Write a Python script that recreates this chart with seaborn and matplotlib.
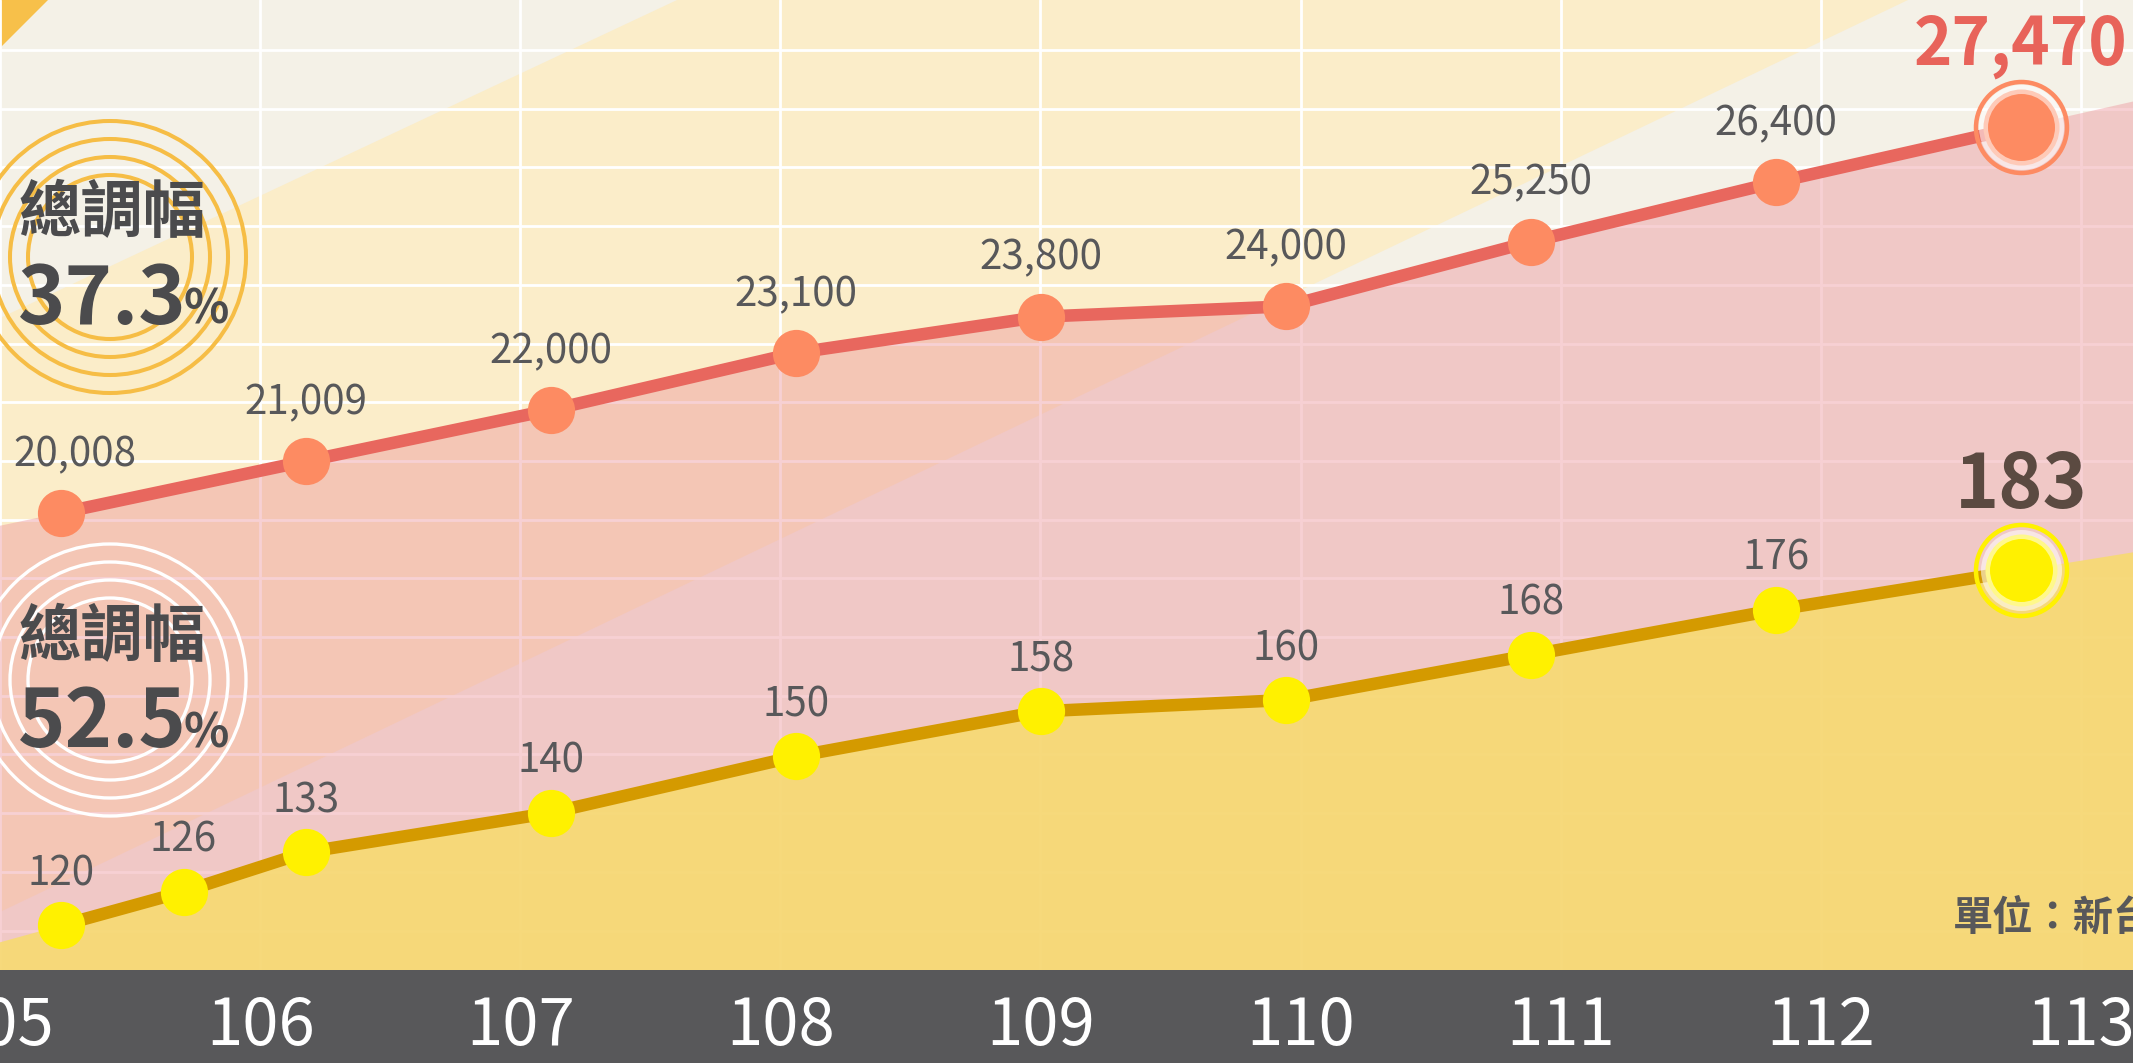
import numpy as np
import pandas as pd
import matplotlib
matplotlib.use("Agg")
import matplotlib.pyplot as plt
import seaborn as sns
from matplotlib.patches import Polygon, Circle, Rectangle

# ---------------- data ----------------
month_years = [105, 106, 107, 108, 109, 110, 111, 112, 113]
monthly_wage = [20008, 21009, 22000, 23100, 23800, 24000, 25250, 26400, 27470]
hour_years = [105, 105.5, 106, 107, 108, 109, 110, 111, 112, 113]
hourly_wage = [120, 126, 133, 140, 150, 158, 160, 168, 176, 183]
year_ticks = [105, 106, 107, 108, 109, 110, 111, 112, 113]
year_labels = [str(y) for y in year_ticks]
badge_title = "總調幅"
monthly_change = "37.3"
hourly_change = "52.5"
unit_text = "單位：新台幣"

sns.set_theme(style="white")
plt.rcParams["font.family"] = ["Noto Sans CJK TC", "DejaVu Sans"]

W, H = 2133, 1063
BAR = 93
PH = H - BAR
fig = plt.figure(figsize=(W / 100, H / 100), dpi=100)
fig.patch.set_facecolor("#58585a")
rect = [0, BAR / H, 1, PH / H]

# ---------- background stripes (pixel coords) ----------
ax_bg = fig.add_axes(rect, zorder=0)
ax_bg.set_xlim(0, W)
ax_bg.set_ylim(PH, 0)
ax_bg.axis("off")
ax_bg.add_patch(Rectangle((0, 0), W, PH, color="#f4f1e7", lw=0))
ax_bg.add_patch(Polygon([(0, 318), (677, 0), (1908, 0), (0, 912)], closed=True,
                        color="#fbedc9", lw=0))
ax_bg.add_patch(Polygon([(0, 0), (48, 0), (0, 48)], closed=True, color="#f7c04a", lw=0))

# ---------- grid + year axis ----------
ax_grid = fig.add_axes(rect, zorder=1)
ax_grid.patch.set_alpha(0)
ax_grid.set_xlim(105, 105 + W / 260.1)
ax_grid.set_ylim(PH, 0)
ax_grid.set_xticks(year_ticks)
ax_grid.set_xticklabels(year_labels, fontweight="medium")
ax_grid.set_yticks(np.arange(50, PH, 58.7))
ax_grid.grid(True, color="white", lw=2.0)
ax_grid.tick_params(axis="x", length=0, pad=17, labelsize=47, labelcolor="white")
ax_grid.tick_params(axis="y", length=0, labelleft=False)
for s in ax_grid.spines.values():
    s.set_visible(False)

xlim = (105 - 61 / 245, 105 + (W - 61) / 245)


def extend(x, y, lo, hi):
    x = np.asarray(x, float)
    y = np.asarray(y, float)
    s0 = (y[1] - y[0]) / (x[1] - x[0])
    s1 = (y[-1] - y[-2]) / (x[-1] - x[-2])
    return (np.r_[lo, x, hi],
            np.r_[y[0] + s0 * (lo - x[0]), y, y[-1] + s1 * (hi - x[-1])])


def series(zorder, xs, ys, ylim, fill_rgba, line_c, mark_c, lab_off, big_c,
           big_size, big_off, big_ms_in, ring_c, first_dx=0):
    ax = fig.add_axes(rect, zorder=zorder)
    ax.patch.set_alpha(0)
    xe, ye = extend(xs, ys, xlim[0], xlim[1])
    ax.fill_between(xe, ye, ylim[0], color=fill_rgba[:3], alpha=fill_rgba[3], lw=0)
    df = pd.DataFrame({"x": xs, "y": ys})
    sns.lineplot(data=df, x="x", y="y", ax=ax, estimator=None, color=line_c, lw=9,
                 marker="o", markersize=34, markeredgewidth=0,
                 markerfacecolor=mark_c, solid_joinstyle="round", zorder=3)
    ax.set_xlim(xlim)
    ax.set_ylim(ylim)
    ax.axis("off")
    # highlighted last point
    ax.plot(xs[-1], ys[-1], "o", ms=91 * 0.72, mfc="none", mec=ring_c,
            mew=4.5 * 0.72, zorder=4)
    ax.plot(xs[-1], ys[-1], "o", ms=big_ms_in * 0.72, mfc=mark_c,
            mec=(1, 1, 1, 0.55), mew=9 * 0.72, zorder=5)
    for i, (x, v) in enumerate(zip(xs[:-1], ys[:-1])):
        ax.annotate(f"{v:,}", (x, v), xytext=(first_dx if i == 0 else 0, lab_off * 0.72),
                    textcoords="offset points", ha="center", va="baseline",
                    fontsize=29, color="#58585a", zorder=6)
    ax.annotate(f"{ys[-1]:,}", (xs[-1], ys[-1]), xytext=(0, big_off * 0.72),
                textcoords="offset points", ha="center", va="baseline",
                fontsize=big_size, fontweight="bold", color=big_c, zorder=6)
    return ax


ax_red = series(2, month_years, monthly_wage, (11171, 29922),
                (237 / 255, 147 / 255, 155 / 255, 0.43), "#e8675e", "#fd8b62", 47,
                "#e8635a", 47, 62, 76, "#fd8b62", first_dx=10)
ax_yel = series(3, hour_years, hourly_wage, (112.1, 284.2),
                (247 / 255, 219 / 255, 111 / 255, 0.88), "#d49a00", "#fff100", 40,
                "#5b4a41", 54, 62, 72, "#fff100")

# ---------- badges ----------
ax_top = fig.add_axes(rect, zorder=6)
ax_top.patch.set_alpha(0)
ax_top.set_xlim(0, W)
ax_top.set_ylim(PH, 0)
ax_top.axis("off")
for r in [136, 118, 100, 82]:
    ax_top.add_patch(Circle((110, 257), r, fill=False, ec="#f6bd45", lw=2.9))
    ax_top.add_patch(Circle((110, 680), r, fill=False, ec="white", lw=2.4))

fig.canvas.draw()
renderer = fig.canvas.get_renderer()
for ty, ny, num in [(213, 324, monthly_change), (637, 747, hourly_change)]:
    ax_top.text(112, ty, badge_title, ha="center", va="center", fontsize=45,
                fontweight="bold", color="#4b4b4d")
    t = ax_top.text(18, ny, num, ha="left", va="baseline", fontsize=58,
                    fontweight="bold", color="#4b4b4d")
    bb = t.get_window_extent(renderer)
    x_end = ax_top.transData.inverted().transform((bb.x1, bb.y0))[0]
    ax_top.text(x_end - 3, ny, "%", ha="left", va="baseline", fontsize=34,
                fontweight="bold", color="#4b4b4d")

ax_top.text(1953, 918, unit_text, ha="left", va="center", fontsize=29,
            fontweight="bold", color="#58585a")

fig.savefig("out.png", dpi=100, facecolor=fig.get_facecolor())
